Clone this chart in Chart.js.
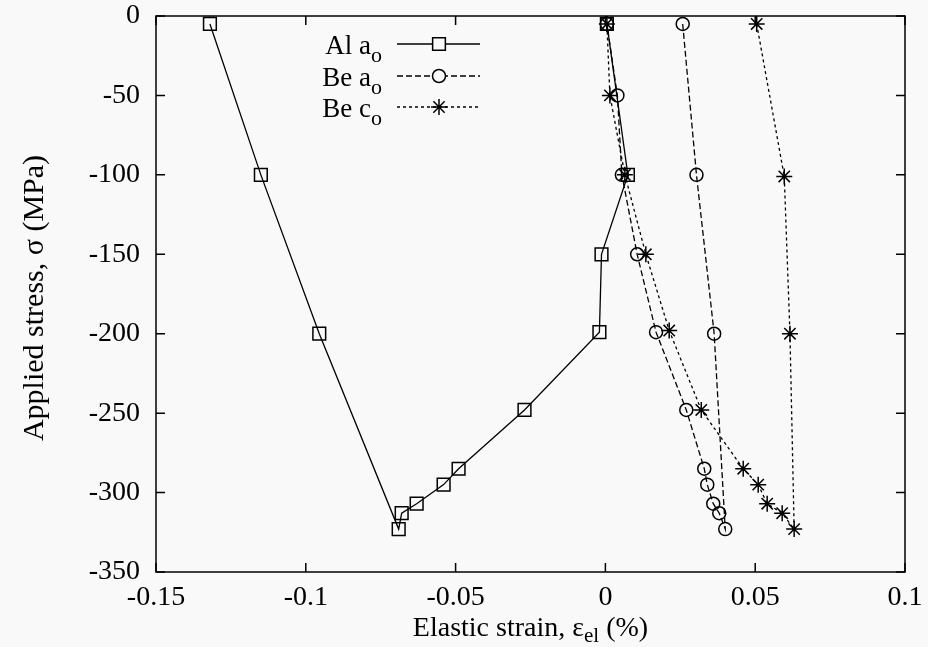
<!DOCTYPE html>
<html>
<head>
<meta charset="utf-8">
<script src="https://cdn.jsdelivr.net/npm/chart.js@4.4.0/dist/chart.umd.min.js"></script>
<style>
  body { margin: 0; background: #f9f9f9; }
  #wrap { width: 928px; height: 647px; }
</style>
</head>
<body>
<div id="wrap"><canvas id="strainChart" width="928" height="647"></canvas></div>
<script>
// values (strain in %, stress in MPa)
const alStrain = [-0.132, -0.115, -0.0955, -0.069, -0.068, -0.063, -0.054, -0.049, -0.027, -0.002, -0.0013, 0.0075, 0.0005];
const alStress = [-5, -100, -200, -323, -313, -307, -295, -285, -248, -199, -150, -100, -5];

const beAStrain = [0.0258, 0.0304, 0.0363, 0.040, 0.038, 0.036, 0.034, 0.033, 0.027, 0.0169, 0.0106, 0.0055, 0.004, 0.0005];
const beAStress = [-5, -100, -200, -323, -313, -307, -295, -285, -248, -199, -150, -100, -50, -5];

const beCStrain = [0.0505, 0.0597, 0.0616, 0.063, 0.059, 0.054, 0.051, 0.046, 0.032, 0.0213, 0.0135, 0.0065, 0.0015, 0.0005];
const beCStress = [-5, -101, -200, -323, -313, -307, -295, -285, -248, -198, -150, -100, -50, -5];

const xTicks = [-0.15, -0.1, -0.05, 0, 0.05, 0.1];
const yTicks = [0, -50, -100, -150, -200, -250, -300, -350];

const legendNames = [['Al a', 'o'], ['Be a', 'o'], ['Be c', 'o']];

const serif = "'Liberation Serif', 'Times New Roman', serif";

function toPoints(xs, ys) {
  return xs.map((x, i) => ({ x: x, y: ys[i] }));
}

const series = [
  { data: toPoints(alStrain, alStress), dash: [], style: 'rect', radius: 9 },
  { data: toPoints(beAStrain, beAStress), dash: [6, 3], style: 'circle', radius: 6.5 },
  { data: toPoints(beCStrain, beCStress), dash: [3, 3], style: 'star', radius: 8 }
];

// frame, inward ticks, axis titles and legend like the gnuplot original
const decorPlugin = {
  id: 'decor',
  afterDraw(chart) {
    const ctx = chart.ctx;
    const a = chart.chartArea;
    const xs = chart.scales.x, ys = chart.scales.y;
    ctx.save();
    ctx.strokeStyle = '#000';
    ctx.lineWidth = 1.5;
    ctx.setLineDash([]);
    ctx.strokeRect(a.left, a.top, a.right - a.left, a.bottom - a.top);

    ctx.beginPath();
    xTicks.forEach(v => {
      const px = xs.getPixelForValue(v);
      ctx.moveTo(px, a.bottom); ctx.lineTo(px, a.bottom - 9);
      ctx.moveTo(px, a.top); ctx.lineTo(px, a.top + 9);
    });
    yTicks.forEach(v => {
      const py = ys.getPixelForValue(v);
      ctx.moveTo(a.left, py); ctx.lineTo(a.left + 9, py);
      ctx.moveTo(a.right, py); ctx.lineTo(a.right - 9, py);
    });
    ctx.stroke();

    ctx.fillStyle = '#000';
    ctx.textBaseline = 'alphabetic';

    // x title with subscript
    const big = '28px ' + serif, small = '21px ' + serif;
    ctx.font = big;
    const p1 = 'Elastic strain, \u03b5', p3 = ' (%)';
    const w1 = ctx.measureText(p1).width, w3 = ctx.measureText(p3).width;
    ctx.font = small;
    const w2 = ctx.measureText('el').width;
    let x0 = (a.left + a.right) / 2 - (w1 + w2 + w3) / 2;
    const by = 636;
    ctx.font = big; ctx.textAlign = 'left';
    ctx.fillText(p1, x0, by);
    ctx.font = small;
    ctx.fillText('el', x0 + w1, by + 6);
    ctx.font = big;
    ctx.fillText(p3, x0 + w1 + w2, by);

    // y title
    ctx.save();
    ctx.translate(43, (a.top + a.bottom) / 2 + 4);
    ctx.rotate(-Math.PI / 2);
    ctx.textAlign = 'center';
    ctx.font = '30px ' + serif;
    ctx.fillText('Applied stress, \u03c3 (MPa)', 0, 0);
    ctx.restore();

    // legend
    const rows = [44, 76, 107];
    const lbig = '27px ' + serif, lsmall = '22px ' + serif;
    rows.forEach((ly, i) => {
      const [main, sub] = legendNames[i];
      ctx.fillStyle = '#000';
      ctx.font = lsmall;
      const ws = ctx.measureText(sub).width;
      ctx.font = lbig;
      const wm = ctx.measureText(main).width;
      const right = 382;
      ctx.textAlign = 'left';
      ctx.fillText(main, right - ws - wm, ly + 10);
      ctx.font = lsmall;
      ctx.fillText(sub, right - ws, ly + 18);

      const s = series[i];
      ctx.lineWidth = 1.3;
      ctx.setLineDash(s.dash);
      ctx.beginPath();
      ctx.moveTo(397, ly); ctx.lineTo(480, ly);
      ctx.stroke();
      ctx.setLineDash([]);
      ctx.lineWidth = 1.5;
      ctx.fillStyle = '#f9f9f9';
      Chart.helpers.drawPoint(ctx, { pointStyle: s.style, radius: s.radius, rotation: 0, borderWidth: 1.5 }, 439, ly);
    });
    ctx.restore();
  }
};

const ctx = document.getElementById('strainChart').getContext('2d');

new Chart(ctx, {
  type: 'scatter',
  data: {
    datasets: series.map((s, i) => ({
      label: legendNames[i].join(''),
      data: s.data,
      showLine: true,
      borderColor: '#000',
      borderWidth: 1.3,
      borderDash: s.dash,
      pointStyle: s.style,
      pointRadius: s.radius,
      pointBorderWidth: 1.5,
      pointBorderColor: '#000',
      pointBackgroundColor: 'rgba(0,0,0,0)',
      tension: 0
    }))
  },
  options: {
    responsive: false,
    animation: false,
    devicePixelRatio: 1,
    layout: { padding: { left: 0, top: 16, right: 23, bottom: 0 } },
    plugins: {
      legend: { display: false },
      tooltip: { enabled: false }
    },
    scales: {
      x: {
        type: 'linear',
        min: -0.15,
        max: 0.1,
        grid: { display: false, drawTicks: false },
        border: { display: false },
        afterFit(scale) {
          scale.height = 75;
          scale.paddingLeft = 0; scale.paddingRight = 0;
        },
        afterBuildTicks(scale) { scale.ticks = xTicks.map(v => ({ value: v })); },
        ticks: {
          padding: 9,
          color: '#000',
          font: { family: serif, size: 28 },
          callback: v => String(Number(v.toFixed(2)))
        }
      },
      y: {
        type: 'linear',
        min: -350,
        max: 0,
        grid: { display: false, drawTicks: false },
        border: { display: false },
        afterFit(scale) {
          scale.width = 156;
          scale.paddingTop = 0; scale.paddingBottom = 0;
        },
        afterBuildTicks(scale) { scale.ticks = yTicks.map(v => ({ value: v })); },
        ticks: {
          padding: 16,
          color: '#000',
          font: { family: serif, size: 28 },
          callback: v => String(v)
        }
      }
    }
  },
  plugins: [decorPlugin]
});
</script>
</body>
</html>
